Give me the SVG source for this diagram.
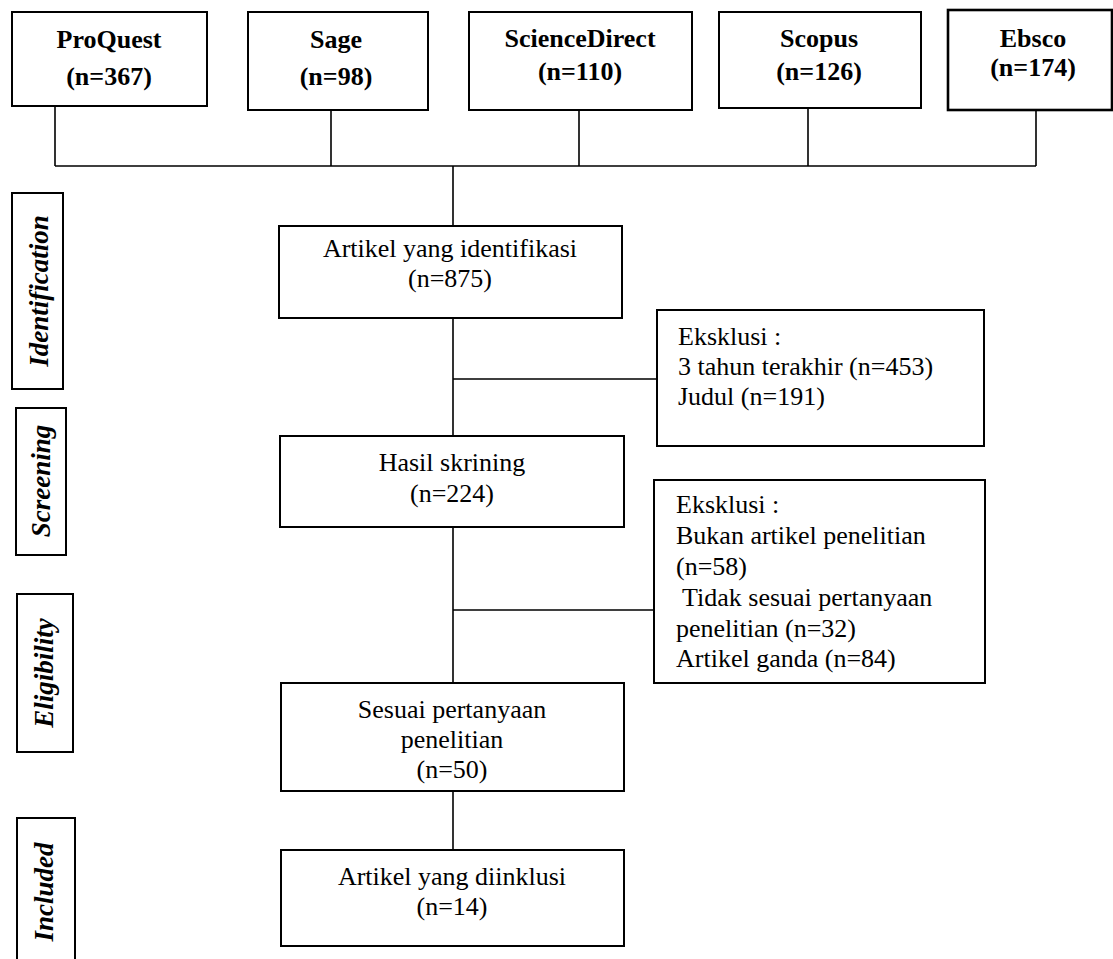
<svg xmlns="http://www.w3.org/2000/svg" width="1113" height="959" viewBox="0 0 1113 959">
<style>
.box{fill:#fff;stroke:#000;stroke-width:2}
.thick{stroke-width:2.6}
.ln{fill:none;stroke:#000;stroke-width:1.6}
.b{font-family:"Liberation Serif","Times New Roman",serif;font-weight:bold;font-size:26px;fill:#000;text-anchor:middle}
.t{font-family:"Liberation Serif","Times New Roman",serif;font-size:26px;fill:#000}
.c{text-anchor:middle}
.lab{font-family:"Liberation Serif","Times New Roman",serif;font-weight:bold;font-style:italic;font-size:27px;fill:#000;text-anchor:middle}
</style>
<rect width="1113" height="959" fill="#fff"/>
<g id="connectors">
<path class="ln" d="M55 106V166M331 110V166M579 110V166M808 108V166M1036 110V166M55 166H1036M453 166V226"/>
<path class="ln" d="M453 318V436M453 379H657"/>
<path class="ln" d="M453 527V683M453 610H654"/>
<path class="ln" d="M453 791V850"/>
</g>
<g id="proquest"><rect class="box" x="12" y="12" width="195" height="94"/><text class="b" x="109" y="48">ProQuest</text><text class="b" x="109" y="85">(n=367)</text></g>
<g id="sage"><rect class="box" x="248" y="12" width="180" height="98"/><text class="b" x="336" y="48">Sage</text><text class="b" x="336" y="85">(n=98)</text></g>
<g id="sciencedirect"><rect class="box" x="469" y="12" width="223" height="98"/><text class="b" x="580" y="47">ScienceDirect</text><text class="b" x="580" y="80">(n=110)</text></g>
<g id="scopus"><rect class="box" x="719" y="12" width="202" height="96"/><text class="b" x="819" y="47">Scopus</text><text class="b" x="819" y="80">(n=126)</text></g>
<g id="ebsco"><rect class="box thick" x="948" y="10" width="164" height="100"/><text class="b" x="1033" y="47">Ebsco</text><text class="b" x="1033" y="76">(n=174)</text></g>
<g id="stage-identification"><rect class="box" x="12" y="193" width="51" height="196"/><text class="lab" transform="translate(48 291) rotate(-90)">Identification</text></g>
<g id="stage-screening"><rect class="box" x="16" y="408" width="50" height="147"/><text class="lab" transform="translate(50 481) rotate(-90)">Screening</text></g>
<g id="stage-eligibility"><rect class="box" x="17" y="594" width="56" height="158"/><text class="lab" transform="translate(53 673) rotate(-90)">Eligibility</text></g>
<g id="stage-included"><rect class="box" x="17" y="818" width="58" height="150"/><text class="lab" transform="translate(53 892) rotate(-90)">Included</text></g>
<g id="identified"><rect class="box" x="279" y="226" width="343" height="92"/><text class="t c" x="450" y="257">Artikel yang identifikasi</text><text class="t c" x="450" y="287">(n=875)</text></g>
<g id="exclusion1"><rect class="box" x="657" y="310" width="327" height="136"/><text class="t" x="678" y="345">Eksklusi :</text><text class="t" x="678" y="375">3 tahun terakhir (n=453)</text><text class="t" x="678" y="405">Judul (n=191)</text></g>
<g id="screened"><rect class="box" x="280" y="436" width="344" height="91"/><text class="t c" x="452" y="471">Hasil skrining</text><text class="t c" x="452" y="502">(n=224)</text></g>
<g id="exclusion2"><rect class="box" x="654" y="480" width="331" height="203"/><text class="t" x="676" y="513">Eksklusi :</text><text class="t" x="676" y="544">Bukan artikel penelitian</text><text class="t" x="676" y="575">(n=58)</text><text class="t" x="676" y="606" xml:space="preserve"> Tidak sesuai pertanyaan</text><text class="t" x="676" y="637">penelitian (n=32)</text><text class="t" x="676" y="667">Artikel ganda (n=84)</text></g>
<g id="eligible"><rect class="box" x="281" y="683" width="343" height="108"/><text class="t c" x="452" y="718">Sesuai pertanyaan</text><text class="t c" x="452" y="748">penelitian</text><text class="t c" x="452" y="778">(n=50)</text></g>
<g id="included"><rect class="box" x="281" y="850" width="343" height="96"/><text class="t c" x="452" y="885">Artikel yang diinklusi</text><text class="t c" x="452" y="915">(n=14)</text></g>
</svg>
